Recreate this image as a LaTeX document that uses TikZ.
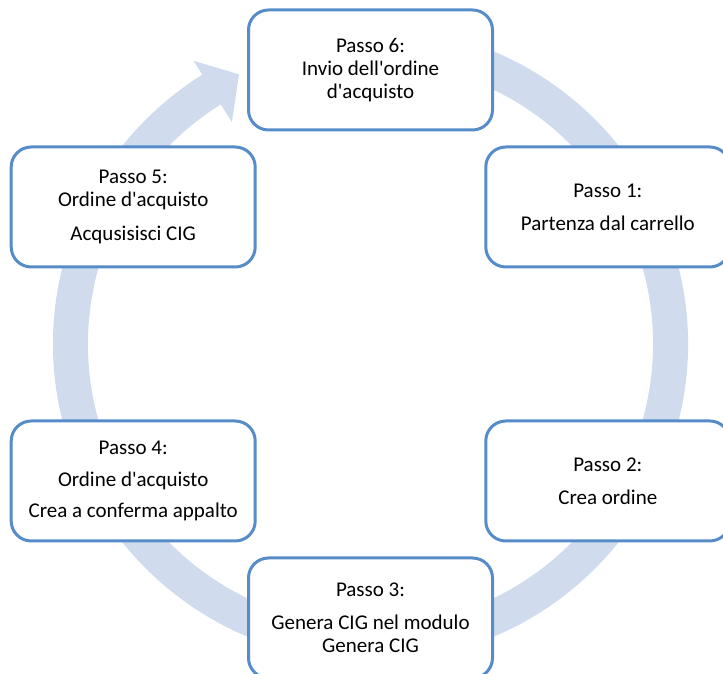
\documentclass[tikz,border=0pt]{standalone}
\usepackage{fontspec}
\setmainfont{Carlito}
\usetikzlibrary{positioning,calc}
\definecolor{ringblue}{RGB}{208,220,238}
\definecolor{boxblue}{RGB}{86,140,199}
\newcommand{\q}{\textquotesingle}
\tikzset{passo/.style={draw=boxblue, line width=3pt, fill=white, rounded corners=20pt,
    minimum width=244pt, minimum height=120pt, align=center,
    font=\fontsize{21}{23}\selectfont}}

\begin{document}
\begin{tikzpicture}[x=1pt, y=1pt]
        \useasboundingbox (0,0) rectangle (723,674);
        \coordinate (c) at (370.5,330);
        % ring with its arrow head
        \begin{scope}[shift={(c)}]
        \fill[ringblue] (108:317.5) arc[start angle=108, end angle=-238, radius=317.5pt] -- (-238:334) -- (-244:300) -- (-238:261.5) -- (-238:282.5) arc[start angle=-238, end angle=108, radius=282.5pt] -- cycle;
        \end{scope}
        % steps
        \foreach \a/\name/\txt in {30/p1/{Passo 1:\\[10pt] Partenza dal carrello},
            -30/p2/{Passo 2:\\[10pt] Crea ordine},
            -90/p3/{Passo 3:\\[10pt] Genera CIG nel modulo\\ Genera CIG},
            -150/p4/{Passo 4:\\[8.5pt] Ordine d\q acquisto\\[8.5pt] Crea a conferma appalto},
            150/p5/{Passo 5:\\ Ordine d\q acquisto\\[11pt] Acqusisisci CIG},
            90/p6/{Passo 6:\\ Invio dell\q ordine\\ d\q acquisto}}
            {\node[passo] (\name) at ($(c)+(\a:274)$) {\txt};}
\end{tikzpicture}
\end{document}
